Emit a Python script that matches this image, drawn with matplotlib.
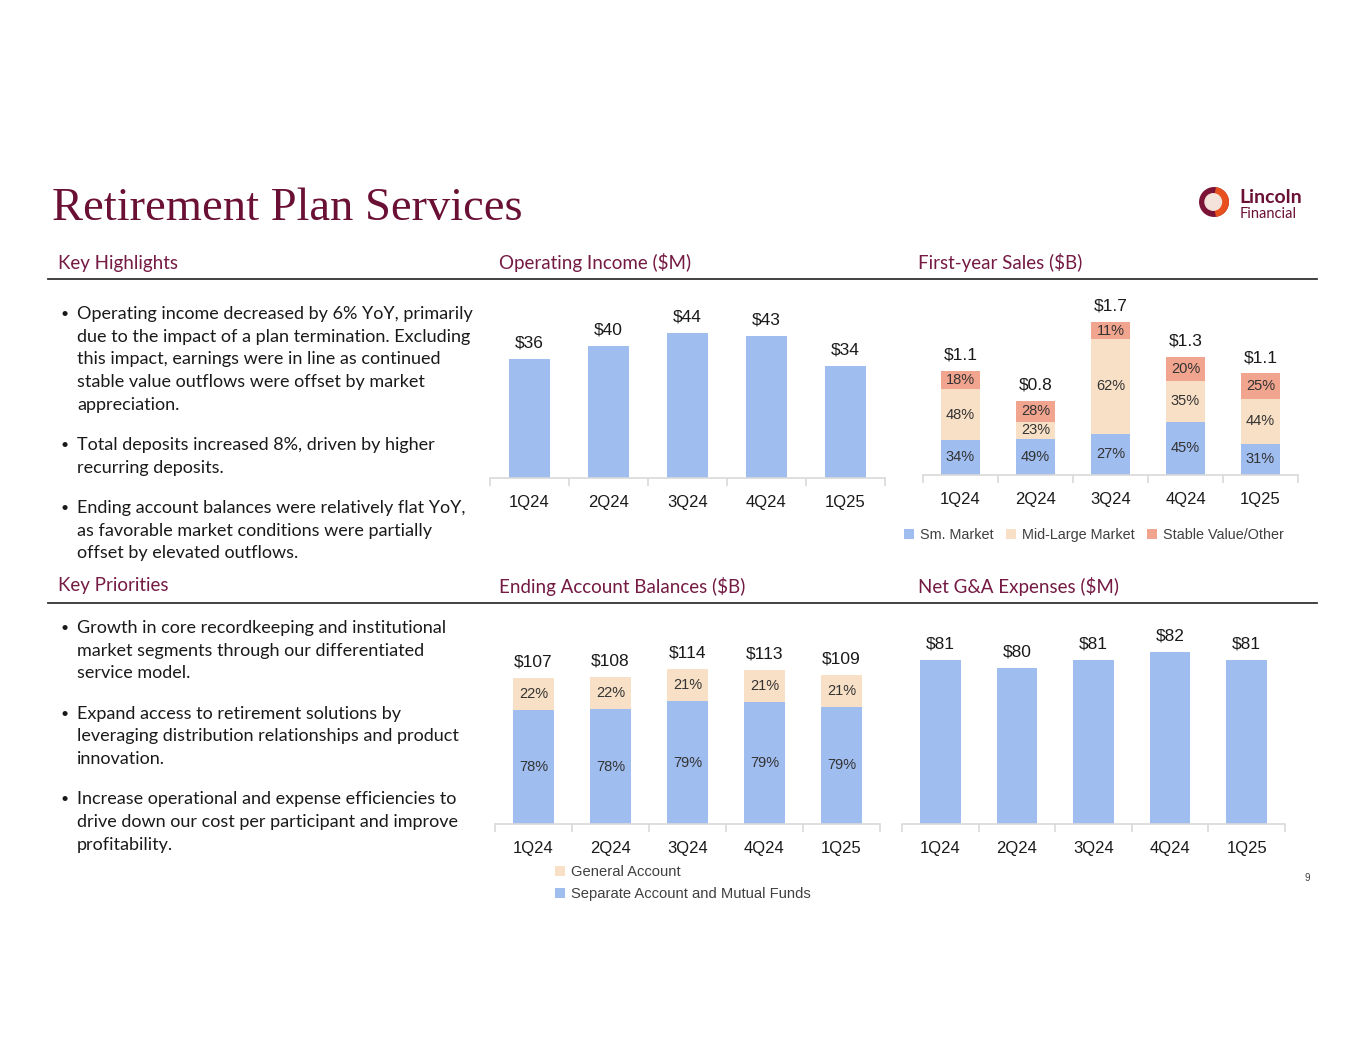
import matplotlib
matplotlib.use("Agg")
import matplotlib.pyplot as plt
from matplotlib.patches import Circle, Wedge
import numpy as np

# ============================================================
# Data
# ============================================================
quarters = ["1Q24", "2Q24", "3Q24", "4Q24", "1Q25"]

op_income = [36, 40, 44, 43, 34]

fy_sales_total = [1.14, 0.81, 1.67, 1.29, 1.11]
fy_sm_market = [34, 49, 27, 45, 31]
fy_mid_large = [48, 23, 62, 35, 44]
fy_stable_value = [18, 28, 11, 20, 25]

bal_total = [107, 108, 114, 113, 109]
bal_separate = [78, 78, 79, 79, 79]
bal_general = [22, 22, 21, 21, 21]

ga_expenses = [81, 80, 81, 82, 81]

highlights = [
    ["Operating income decreased by 6% YoY, primarily",
     "due to the impact of a plan termination. Excluding",
     "this impact, earnings were in line as continued",
     "stable value outflows were offset by market",
     "appreciation."],
    ["Total deposits increased 8%, driven by higher",
     "recurring deposits."],
    ["Ending account balances were relatively flat YoY,",
     "as favorable market conditions were partially",
     "offset by elevated outflows."],
]

priorities = [
    ["Growth in core recordkeeping and institutional",
     "market segments through our differentiated",
     "service model."],
    ["Expand access to retirement solutions by",
     "leveraging distribution relationships and product",
     "innovation."],
    ["Increase operational and expense efficiencies to",
     "drive down our cost per participant and improve",
     "profitability."],
]

# ============================================================
# Style
# ============================================================
BLUE = "#A0BDF0"
BEIGE = "#F8E0C6"
SALMON = "#F2A58E"
MAROON = "#6B1035"
HEAD = "#741A43"
DARK = "#1A1A1A"
AXIS = "#D9D9D9"

BODY_FONT = "Lato"
CHART_FONT = "Liberation Sans"

W, H = 1365, 1055
fig = plt.figure(figsize=(W / 100, H / 100), dpi=100)
fig.patch.set_facecolor("white")


def fx(x):
    return x / W


def fy(y):
    return 1 - y / H


def ax_at(left, top, right, bottom):
    return fig.add_axes([fx(left), fy(bottom), (right - left) / W, (bottom - top) / H])


def style_axis(ax):
    for s in ["top", "right", "left"]:
        ax.spines[s].set_visible(False)
    ax.spines["bottom"].set_color(AXIS)
    ax.spines["bottom"].set_linewidth(1.2)
    ax.set_yticks([])
    ax.set_xlim(-0.5, len(quarters) - 0.5)
    ax.set_xticks(range(len(quarters)))
    ax.set_xticklabels(quarters, fontsize=12, color=DARK, family=CHART_FONT)
    ax.tick_params(axis="x", which="major", length=0, pad=12)
    ax.set_xticks(np.arange(-0.5, len(quarters)), minor=True)
    ax.tick_params(axis="x", which="minor", length=6, color=AXIS, width=1.2)
    ax.patch.set_alpha(0)


# ============================================================
# Title, logo, section headers
# ============================================================
fig.text(fx(52), fy(220), "Retirement Plan Services", fontsize=33.5,
         family="Liberation Serif", color=MAROON, va="baseline")

# simple logo mark
logo_ax = fig.add_axes([fx(1199), fy(217), 30 / W, 30 / H])
logo_ax.set_xlim(-1, 1)
logo_ax.set_ylim(-1, 1)
logo_ax.set_aspect("equal")
logo_ax.axis("off")
logo_ax.add_patch(Circle((0, 0), 0.95, color="#7A1335"))
logo_ax.add_patch(Wedge((0, 0), 0.95, -80, 80, color="#E8501E"))
logo_ax.add_patch(Circle((-0.05, 0.0), 0.55, color="#F4E3DA"))
fig.text(fx(1239), fy(198), "Lincoln", fontsize=14, fontweight="bold",
         family=BODY_FONT, color=MAROON, va="center")
fig.text(fx(1240), fy(214), "Financial", fontsize=10.5,
         family=BODY_FONT, color=MAROON, va="center")

headers_top = [(58, "Key Highlights"), (499, "Operating Income ($M)"), (918, "First-year Sales ($B)")]
headers_bot = [(58, "Key Priorities"), (499, "Ending Account Balances ($B)"), (918, "Net G&A Expenses ($M)")]
for x, t in headers_top:
    fig.text(fx(x), fy(263), t, fontsize=13.5, family=BODY_FONT, color=HEAD, va="center")
for x, t in headers_bot:
    fig.text(fx(x), fy(586), t, fontsize=13.5, family=BODY_FONT, color=HEAD, va="center")

for yline in [279, 603]:
    fig.add_artist(plt.Line2D([fx(48), fx(1317)], [fy(yline), fy(yline)],
                              color="#333333", linewidth=1.3))


# ============================================================
# Bullet text
# ============================================================
def draw_bullets(blocks, y0):
    y = y0
    for block in blocks:
        fig.text(fx(61), fy(y), "\u2022", fontsize=10, family=BODY_FONT, color=DARK, va="center")
        for line in block:
            fig.text(fx(77), fy(y), line, fontsize=13, family=BODY_FONT, color=DARK, va="center")
            y += 22.7
        y += 17.5


draw_bullets(highlights, 314)
draw_bullets(priorities, 628)

# ============================================================
# Operating income
# ============================================================
x = np.arange(len(quarters))
VAL_SIZE = 12.5
PCT_SIZE = 10.5

ax1 = ax_at(490, 300, 885, 478)
b = ax1.bar(x, op_income, width=0.53, color=BLUE)
ax1.set_ylim(0, 178 / 3.3)
ax1.bar_label(b, labels=[f"${v}" for v in op_income], padding=6,
              fontsize=VAL_SIZE, color=DARK, family=CHART_FONT)
style_axis(ax1)

# ============================================================
# First-year sales (stacked shares)
# ============================================================
tot = np.array(fy_sales_total)
sm = tot * np.array(fy_sm_market) / 100
mid = tot * np.array(fy_mid_large) / 100
sv = tot * np.array(fy_stable_value) / 100

ax2 = ax_at(923, 290, 1298, 475)
b1 = ax2.bar(x, sm, width=0.53, color=BLUE, label="Sm. Market")
b2 = ax2.bar(x, mid, width=0.53, bottom=sm, color=BEIGE, label="Mid-Large Market")
b3 = ax2.bar(x, sv, width=0.53, bottom=sm + mid, color=SALMON, label="Stable Value/Other")
ax2.set_ylim(0, 185 / 91.5)
for cont, pct in [(b1, fy_sm_market), (b2, fy_mid_large), (b3, fy_stable_value)]:
    ax2.bar_label(cont, labels=[f"{p}%" for p in pct], label_type="center",
                  fontsize=PCT_SIZE, color="#333333", family=CHART_FONT)
ax2.bar_label(b3, labels=[f"${v:.1f}" for v in fy_sales_total], padding=6,
              fontsize=VAL_SIZE, color=DARK, family=CHART_FONT)
style_axis(ax2)
ax2.legend(loc="center left", bbox_to_anchor=(fx(904), fy(535)),
           bbox_transform=fig.transFigure, ncol=3, frameon=False,
           handlelength=0.7, handleheight=0.7, handletextpad=0.4,
           columnspacing=0.85, borderaxespad=0, borderpad=0,
           prop={"family": CHART_FONT, "size": 10.4}, labelcolor="#404040")

# ============================================================
# Ending account balances
# ============================================================
btot = np.array(bal_total)
sep = btot * np.array(bal_separate) / 100
gen = btot * np.array(bal_general) / 100

ax3 = ax_at(495, 630, 880, 824)
c1 = ax3.bar(x, sep, width=0.53, color=BLUE, label="Separate Account and Mutual Funds")
c2 = ax3.bar(x, gen, width=0.53, bottom=sep, color=BEIGE, label="General Account")
ax3.set_ylim(0, 194 / 1.364)
ax3.bar_label(c1, labels=[f"{p}%" for p in bal_separate], label_type="center",
              fontsize=PCT_SIZE, color="#333333", family=CHART_FONT)
ax3.bar_label(c2, labels=[f"{p}%" for p in bal_general], label_type="center",
              fontsize=PCT_SIZE, color="#333333", family=CHART_FONT)
ax3.bar_label(c2, labels=[f"${v}" for v in bal_total], padding=6,
              fontsize=VAL_SIZE, color=DARK, family=CHART_FONT)
style_axis(ax3)
ax3.legend(handles=[c2, c1], loc="upper left", bbox_to_anchor=(fx(555), fy(865)),
           bbox_transform=fig.transFigure, ncol=1, frameon=False,
           handlelength=0.7, handleheight=0.7, handletextpad=0.4,
           labelspacing=0.55, borderaxespad=0, borderpad=0,
           prop={"family": CHART_FONT, "size": 10.6}, labelcolor="#404040")

# ============================================================
# Net G&A expenses
# ============================================================
ax4 = ax_at(902, 630, 1285, 824)
d = ax4.bar(x, ga_expenses, width=0.53, color=BLUE)
ax4.set_ylim(60.5, 60.5 + 194 / 8)
ax4.bar_label(d, labels=[f"${v}" for v in ga_expenses], padding=6,
              fontsize=VAL_SIZE, color=DARK, family=CHART_FONT)
style_axis(ax4)

fig.text(fx(1307), fy(878), "9", fontsize=7, family=CHART_FONT, color="#404040",
         ha="center", va="center")

plt.savefig("out.png", dpi=100)
